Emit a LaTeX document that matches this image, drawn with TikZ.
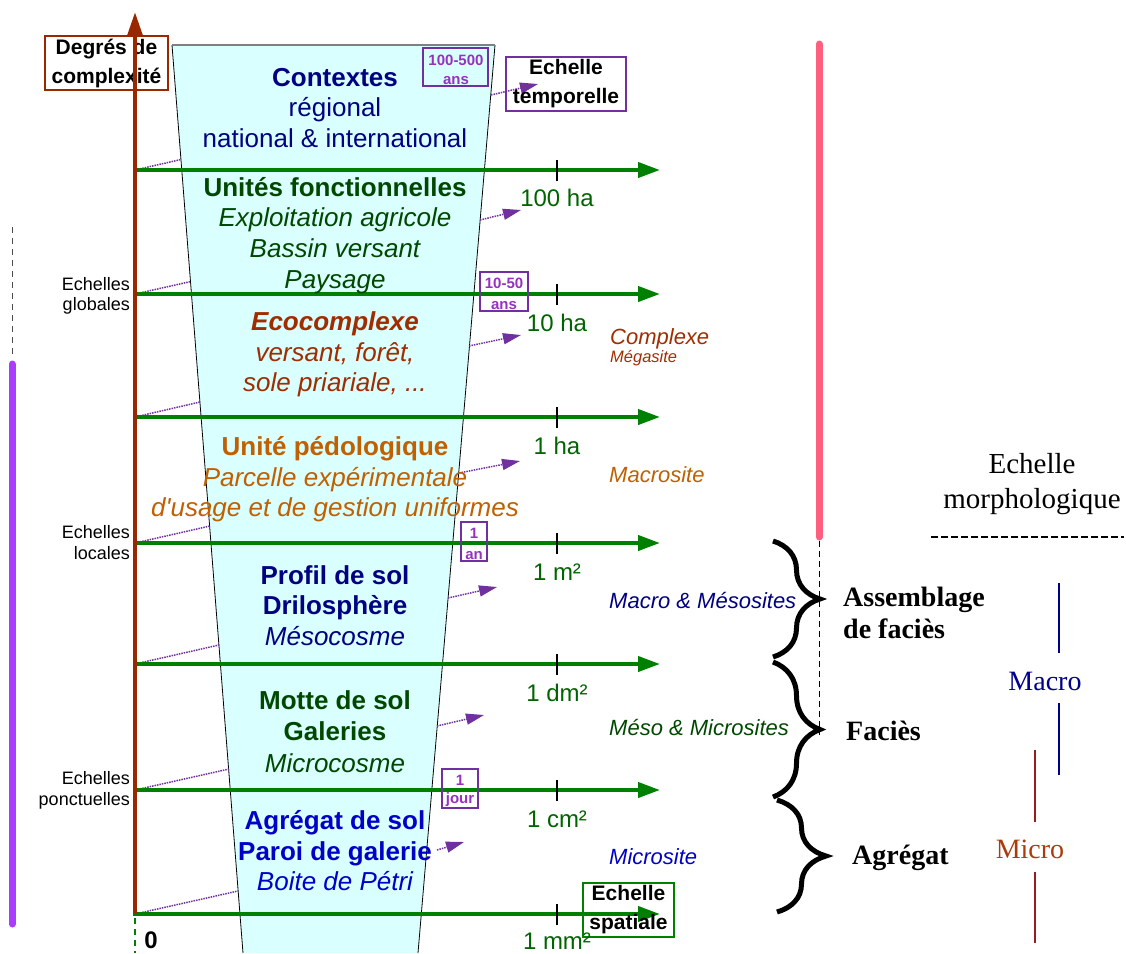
\documentclass[tikz,border=0pt]{standalone}
\usepackage{fontspec}
\setmainfont[Ligatures=TeXOff]{Liberation Sans}
\newfontfamily\tms{Liberation Serif}
\usetikzlibrary{arrows.meta,decorations.pathreplacing}
\definecolor{axbrown}{RGB}{153,40,0}
\definecolor{grn}{RGB}{0,128,0}
\definecolor{dgrn}{RGB}{0,100,0}
\definecolor{fgrn}{RGB}{0,72,0}
\definecolor{navyc}{RGB}{0,0,128}
\definecolor{eco}{RGB}{160,45,0}
\definecolor{ped}{RGB}{192,96,0}
\definecolor{agblue}{RGB}{0,0,200}
\definecolor{purp}{RGB}{112,48,160}
\definecolor{tpurp}{RGB}{150,50,190}
\definecolor{pinkbar}{RGB}{255,96,128}
\definecolor{violetbar}{RGB}{170,60,255}
\definecolor{trapfill}{RGB}{218,255,255}
\definecolor{macroc}{RGB}{0,0,140}
\definecolor{microl}{RGB}{150,30,30}
\definecolor{microt}{RGB}{170,60,10}
\tikzset{
  bl/.style={anchor=base,inner sep=0},
  tz/.style={bl,font=\fontsize{26}{30}\selectfont},
  sc/.style={bl,text=dgrn,font=\fontsize{24}{28}\selectfont},
  rl/.style={anchor=base west,inner sep=0,font=\fontsize{22}{26}\selectfont\itshape},
  ll/.style={anchor=base east,inner sep=0,font=\fontsize{18}{20}\selectfont},
  tbt/.style={bl,text=tpurp,font=\fontsize{15}{18}\selectfont\bfseries},
  tbox/.style={draw=purp,line width=1.6,inner sep=0},
  gline/.style={draw=grn,line width=4,-{Triangle[length=22,width=15]}},
  tickm/.style={draw=black,line width=1.5},
  ldot/.style={draw=purp,line width=1.5,densely dotted},
  rdot/.style={draw=purp,line width=1.5,densely dotted,-{Triangle[length=18,width=11]}},
  bbox/.style={line width=2,inner sep=0,align=center,font=\fontsize{21}{29}\selectfont\bfseries},
  brc/.style={draw=black,line width=5,decorate,decoration={brace,amplitude=47}},
  sf/.style={anchor=base west,inner sep=0,font=\fontsize{28}{32}\selectfont\tms\bfseries},
}
\begin{document}
\begin{tikzpicture}[x=1pt,y=-1pt]
\useasboundingbox (0,0) rectangle (1126,953);
% trapezoid
\coordinate (tl) at (172,45);
\coordinate (tr) at (495,45);
\coordinate (br) at (418,953);
\coordinate (blc) at (243,953);
\fill[trapfill] (tl) -- (tr) -- (br) -- (blc) -- cycle;
\draw[black,line width=0.8] (blc) -- (tl);
\draw[black,line width=0.8] (tr) -- (br);
\draw[gray,line width=1.2] (tl) -- (tr);
% side bars
\draw[violetbar,line width=7,line cap=round] (12,364) -- (12,924);
\draw[black!70,line width=1,dash pattern=on 6pt off 5pt] (12,227) -- (12,356);
\draw[pinkbar,line width=7,line cap=round] (819,44) -- (819,537);
\draw[black,line width=0.8,dash pattern=on 6pt off 4pt] (819,541) -- (819,735);
% left dotted lines
\foreach \n/\y/\ex/\ey in {a/170/181/159.5,b/294/191/281.5,c/417/200/402,d/543/210/526,e/664/219/645,f/790/229/769,g/914/238/891}{
  \coordinate (A\n) at (135,\y);
  \coordinate (E\n) at (\ex,\ey);
  \draw[ldot] (A\n) -- (E\n);
}
% green scale lines
\foreach \n/\y in {a/170,b/294,c/417,d/543,e/664,f/790,g/914}{
  \coordinate (L\n) at (133,\y);
  \coordinate (R\n) at (660,\y);
  \draw[gline] (L\n) -- (R\n);
  \coordinate (T\n) at (557,\y-10);
  \coordinate (U\n) at (557,\y+11);
  \draw[tickm] (T\n) -- (U\n);
}
% right dotted arrows
\foreach \n/\sx/\sy/\ex/\ey in {1/491/95/538/84,2/480/220/521/210,3/469/346/521/335,4/459/473/520/461,5/448/598/497/587,6/437/726/484/715,7/437/850/464/842}{
  \coordinate (S\n) at (\sx,\sy);
  \coordinate (F\n) at (\ex,\ey);
  \draw[rdot] (S\n) -- (F\n);
}
% boxes
\node[bbox,draw=axbrown,minimum width=123,minimum height=54] (deg) at (106.5,63) {Degrés de\\complexité};
\node[bbox,draw=purp,minimum width=120,minimum height=54] (etemp) at (566,84) {Echelle\\temporelle};
\node[bbox,draw=grn,minimum width=91,minimum height=54] (espa) at (628.5,910) {Echelle\\spatiale};
% axis
\coordinate (ax0) at (135,914);
\coordinate (ax1) at (135,12);
\coordinate (ax2) at (135,918);
\coordinate (ax3) at (135,953);
\draw[axbrown,line width=4,-{Triangle[length=24,width=15]}] (ax0) -- (ax1);
\draw[grn,line width=1.5,dash pattern=on 6pt off 5pt] (ax2) -- (ax3);
\node[bl,font=\fontsize{24}{28}\selectfont\bfseries] (zero) at (151,948) {0};
% time boxes
\node[tbox,minimum width=65,minimum height=38] (tb1) at (455.5,67) {};
\node[tbt] (tb1a) at (456,65) {100-500};
\node[tbt] (tb1b) at (456,84) {ans};
\node[tbox,minimum width=48,minimum height=39] (tb2) at (504,291.5) {};
\node[tbt] (tb2a) at (504,288) {10-50};
\node[tbt] (tb2b) at (504,309) {ans};
\node[tbox,minimum width=26,minimum height=39] (tb3) at (474,541.5) {};
\node[tbt] (tb3a) at (474,538) {1};
\node[tbt] (tb3b) at (474,559) {an};
\node[tbox,minimum width=36,minimum height=39] (tb4) at (460,788.5) {};
\node[tbt] (tb4a) at (460,785) {1};
\node[tbt] (tb4b) at (460,803) {jour};
% trapezoid text
\node[tz,text=navyc,font=\fontsize{26}{30}\selectfont\bfseries] (c1) at (335,86) {Contextes};
\node[tz,text=navyc] (c2) at (335,116) {régional};
\node[tz,text=navyc] (c3) at (335,147) {national \& international};
\node[tz,text=fgrn,font=\fontsize{26}{30}\selectfont\bfseries] (u1) at (335,196) {Unités fonctionnelles};
\node[tz,text=fgrn,font=\fontsize{26}{30}\selectfont\itshape] (u2) at (335,226) {Exploitation agricole};
\node[tz,text=fgrn,font=\fontsize{26}{30}\selectfont\itshape] (u3) at (335,257) {Bassin versant};
\node[tz,text=fgrn,font=\fontsize{26}{30}\selectfont\itshape] (u4) at (335,288) {Paysage};
\node[tz,text=eco,font=\fontsize{26}{30}\selectfont\bfseries\itshape] (e1) at (335,330) {Ecocomplexe};
\node[tz,text=eco,font=\fontsize{26}{30}\selectfont\itshape] (e2) at (335,361) {versant, forêt,};
\node[tz,text=eco,font=\fontsize{26}{30}\selectfont\itshape] (e3) at (335,391) {sole priariale, ...};
\node[tz,text=ped,font=\fontsize{26}{30}\selectfont\bfseries] (p1) at (335,455) {Unité pédologique};
\node[tz,text=ped,font=\fontsize{26}{30}\selectfont\itshape] (p2) at (335,486) {Parcelle expérimentale};
\node[tz,text=ped,font=\fontsize{26}{30}\selectfont\itshape] (p3) at (335,516) {d'usage et de gestion uniformes};
\node[tz,text=navyc,font=\fontsize{26}{30}\selectfont\bfseries] (s1) at (335,584) {Profil de sol};
\node[tz,text=navyc,font=\fontsize{26}{30}\selectfont\bfseries] (s2) at (335,614) {Drilosphère};
\node[tz,text=navyc,font=\fontsize{26}{30}\selectfont\itshape] (s3) at (335,645) {Mésocosme};
\node[tz,text=fgrn,font=\fontsize{26}{30}\selectfont\bfseries] (m1) at (335,709) {Motte de sol};
\node[tz,text=fgrn,font=\fontsize{26}{30}\selectfont\bfseries] (m2) at (335,740) {Galeries};
\node[tz,text=fgrn,font=\fontsize{26}{30}\selectfont\itshape] (m3) at (335,772) {Microcosme};
\node[tz,text=agblue,font=\fontsize{26}{30}\selectfont\bfseries] (g1) at (335,829) {Agrégat de sol};
\node[tz,text=agblue,font=\fontsize{26}{30}\selectfont\bfseries] (g2) at (335,860) {Paroi de galerie};
\node[tz,text=agblue,font=\fontsize{26}{30}\selectfont\itshape] (g3) at (335,890) {Boite de Pétri};
% scale labels
\node[sc] (k1) at (557,206) {100 ha};
\node[sc] (k2) at (557,331) {10 ha};
\node[sc] (k3) at (557,454) {1 ha};
\node[sc] (k4) at (557,580) {1 m²};
\node[sc] (k5) at (557,701) {1 dm²};
\node[sc] (k6) at (557,827) {1 cm²};
\node[sc] (k7) at (557,949) {1 mm²};
% right labels
\node[rl,text=eco] (r1) at (610,344) {Complexe};
\node[rl,text=eco,font=\fontsize{16.5}{20}\selectfont\itshape] (r2) at (610,362) {Mégasite};
\node[rl,text=ped] (r3) at (609,482) {Macrosite};
\node[rl,text=navyc] (r4) at (609,608) {Macro \& Mésosites};
\node[rl,text=fgrn] (r5) at (609,735) {Méso \& Microsites};
\node[rl,text=agblue] (r6) at (609,864) {Microsite};
% left labels
\node[ll] (l1) at (130,290) {Echelles};
\node[ll] (l2) at (130,310) {globales};
\node[ll] (l3) at (130,538) {Echelles};
\node[ll] (l4) at (130,559) {locales};
\node[ll] (l5) at (130,784) {Echelles};
\node[ll] (l6) at (130,805) {ponctuelles};
% braces
\coordinate (b1s) at (773,541);
\coordinate (b1e) at (773,657);
\coordinate (b2s) at (773,662);
\coordinate (b2e) at (773,797);
\coordinate (b3s) at (777,800);
\coordinate (b3e) at (777,912);
\draw[brc] (b1s) -- (b1e);
\draw[brc] (b2s) -- (b2e);
\draw[brc,decoration={brace,amplitude=49}] (b3s) -- (b3e);
\node[sf] (f1) at (843,606) {Assemblage};
\node[sf] (f2) at (843,638) {de faciès};
\node[sf] (f3) at (846,740) {Faciès};
\node[sf] (f4) at (852,864) {Agrégat};
% morphological scale
\node[bl,font=\fontsize{29}{34}\selectfont\tms] (mo1) at (1032,473) {Echelle};
\node[bl,font=\fontsize{29}{34}\selectfont\tms] (mo2) at (1032,508) {morphologique};
\coordinate (dl0) at (931,537);
\coordinate (dl1) at (1124,537);
\draw[black,line width=1.8,dash pattern=on 7pt off 3pt] (dl0) -- (dl1);
\node[bl,text=macroc,font=\fontsize{28}{32}\selectfont\tms] (mac) at (1045,690) {Macro};
\node[bl,text=microt,font=\fontsize{28}{32}\selectfont\tms] (mic) at (1030,858) {Micro};
\coordinate (ma1) at (1059,583);
\coordinate (ma2) at (1059,653);
\coordinate (ma3) at (1059,703);
\coordinate (ma4) at (1059,775);
\draw[macroc,line width=1.6] (ma1) -- (ma2);
\draw[macroc,line width=1.6] (ma3) -- (ma4);
\coordinate (mi1) at (1035,750);
\coordinate (mi2) at (1035,822);
\coordinate (mi3) at (1035,872);
\coordinate (mi4) at (1035,943);
\draw[microl,line width=1.6] (mi1) -- (mi2);
\draw[microl,line width=1.6] (mi3) -- (mi4);
\end{tikzpicture}
\end{document}
